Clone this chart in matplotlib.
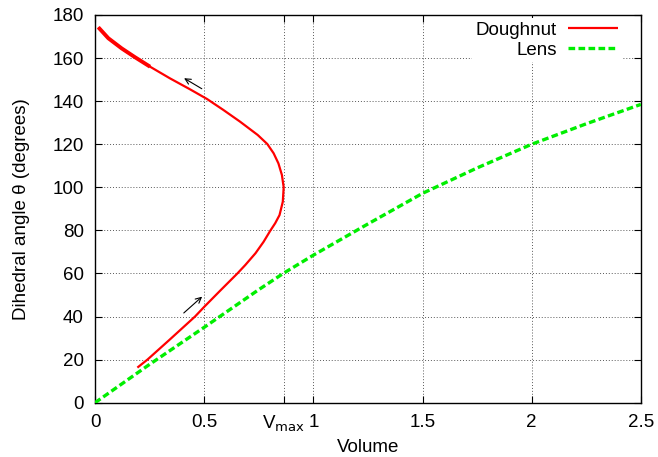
import matplotlib.pyplot as plt

plt.rcParams['font.family'] = ['Liberation Sans', 'DejaVu Sans']

# Doughnut: dihedral angle vs volume
doughnut_angle = [16.3, 20, 29.1, 40, 44.6, 52.2, 60, 63.9, 69.4, 74.7, 79.9, 83.3, 87.1, 93.3,
                  100, 105.7, 111.1, 115.8, 120.1, 124.3, 130.5, 135.9, 141.0, 145.5, 150.6,
                  156.0, 160.4, 164.5, 169.2, 174.3]
doughnut_vol = [0.194, 0.240, 0.340, 0.458, 0.501, 0.575, 0.652, 0.688, 0.735, 0.772, 0.803, 0.825,
                0.845, 0.860, 0.864, 0.856, 0.840, 0.818, 0.789, 0.745, 0.664, 0.588, 0.513,
                0.435, 0.343, 0.252, 0.183, 0.122, 0.061, 0.015]

# Lens
lens_vol = [0.0, 0.25, 0.5, 0.75, 0.865, 1.0, 1.25, 1.5, 1.75, 2.0, 2.25, 2.5]
lens_angle = [0.0, 17.8, 35.0, 52.5, 60.2, 68.5, 83.0, 97.2, 109.0, 120.0, 129.5, 138.5]

v_max = 0.865
xticks = [0, 0.5, v_max, 1, 1.5, 2, 2.5]
xticklabels = ['0', '0.5', r'V$_{\mathrm{max}}$', '1', '1.5', '2', '2.5']
yticks = list(range(0, 181, 20))

fs = 13.5

fig = plt.figure(figsize=(6.58, 4.57), dpi=100)
ax = fig.add_axes([0.1444, 0.1188, 0.8296, 0.8484])

ax.plot(doughnut_vol, doughnut_angle, color='#ff0000', lw=1.6, label='Doughnut', zorder=3,
        solid_capstyle='butt')
# upper end of the doughnut branch is drawn heavier in the original
ax.plot(doughnut_vol[-5:], doughnut_angle[-5:], color='#ff0000', lw=2.8, zorder=3,
        solid_capstyle='butt')
ax.plot(lens_vol, lens_angle, color='#00ee00', lw=2.4, linestyle=(0, (2.0, 1.0)),
        label='Lens', zorder=3)

# direction arrows
ax.annotate('', xy=(0.397, 151.3), xytext=(0.5, 145.1),
            arrowprops=dict(arrowstyle='->', color='black', lw=0.8))
ax.annotate('', xy=(0.5, 50.1), xytext=(0.397, 40.8),
            arrowprops=dict(arrowstyle='->', color='black', lw=0.8))

ax.set_xlim(0, 2.5)
ax.set_ylim(0, 180)
ax.set_xticks(xticks)
ax.set_xticklabels(xticklabels)
ax.set_yticks(yticks)
ax.tick_params(direction='in', top=True, right=True, length=5, width=0.8, labelsize=fs, pad=8)
ax.grid(True, color='0.35', linestyle=(0, (1, 2)), lw=0.7)

ax.set_xlabel('Volume', fontsize=fs, labelpad=3.5)
ax.set_ylabel('Dihedral angle θ (degrees)', fontsize=fs, labelpad=16)

for s in ax.spines.values():
    s.set_linewidth(1.0)

leg = ax.legend(loc='upper right', bbox_to_anchor=(0.965, 0.992), markerfirst=False, fontsize=fs,
                frameon=True, handlelength=2.67, borderaxespad=0, labelspacing=0.13,
                handletextpad=0.6, fancybox=False, borderpad=0.2)
leg.get_frame().set_edgecolor('none')
leg.get_frame().set_facecolor('white')
leg.get_frame().set_alpha(1.0)
leg._legend_box.align = 'right'

fig.savefig('out.png', dpi=100)
